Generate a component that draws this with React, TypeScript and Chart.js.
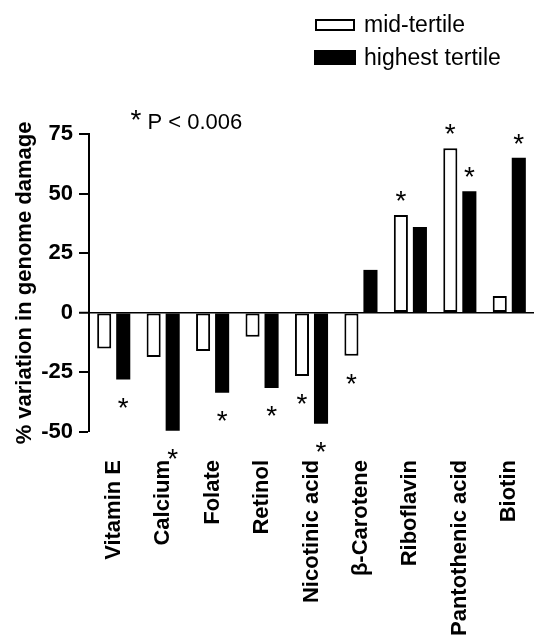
import React, { useEffect, useRef } from 'react';
import { Chart, registerables } from 'chart.js';

Chart.register(...registerables);

const categories = [
  'Vitamin E',
  'Calcium',
  'Folate',
  'Retinol',
  'Nicotinic acid',
  'β-Carotene',
  'Riboflavin',
  'Pantothenic acid',
  'Biotin',
];
const midTertile = [-15, -18.5, -16, -10, -26.5, -18, 41, 69, 7];
const highestTertile = [-28, -49.5, -33.5, -31.5, -46.5, 18, 36, 51, 65];
const midSignificant = [false, false, false, false, true, true, true, true, false];
const highestSignificant = [true, true, true, true, true, false, false, true, true];
const yTicks = [-50, -25, 0, 25, 50, 75];
const seriesNames = ['mid-tertile', 'highest tertile'];
const yTitle = '% variation in genome damage';
const noteStar = '*';
const noteText = 'P < 0.006';

const FONT = '"Liberation Sans", Arial, Helvetica, sans-serif';

export default function App() {
  const ref = useRef<HTMLCanvasElement | null>(null);

  useEffect(() => {
    if (!ref.current) return;

    const annotations = {
      id: 'annotations',
      afterDatasetsDraw(chart: any) {
        const ctx = chart.ctx;
        ctx.save();
        ctx.fillStyle = '#000';
        ctx.textAlign = 'center';
        ctx.textBaseline = 'alphabetic';
        ctx.font = `28px ${FONT}`;
        const flags = [midSignificant, highestSignificant];
        flags.forEach((sig, di) => {
          const meta = chart.getDatasetMeta(di);
          meta.data.forEach((bar: any, i: number) => {
            if (!sig[i]) return;
            const v = chart.data.datasets[di].data[i] as number;
            const cy = v < 0 ? bar.y + 21 : bar.y - 21;
            ctx.fillText('*', bar.x, cy + 16);
          });
        });
        ctx.restore();
      },
      afterDraw(chart: any) {
        const ctx = chart.ctx;
        ctx.save();
        // legend
        ctx.strokeStyle = '#000';
        ctx.lineWidth = 2;
        ctx.fillStyle = '#fff';
        ctx.fillRect(316, 20, 38, 10);
        ctx.strokeRect(316, 20, 38, 10);
        ctx.fillStyle = '#000';
        ctx.fillRect(314, 50, 42, 15);
        ctx.font = `23px ${FONT}`;
        ctx.textAlign = 'left';
        ctx.textBaseline = 'alphabetic';
        ctx.fillText(seriesNames[0], 364, 31.5);
        ctx.fillText(seriesNames[1], 364, 65);
        // note
        ctx.font = `28px ${FONT}`;
        ctx.fillText(noteStar, 130.5, 128.5);
        ctx.font = `22px ${FONT}`;
        ctx.fillText(noteText, 147.5, 128.5);
        ctx.restore();
      },
    };

    const chart = new Chart(ref.current, {
      type: 'bar',
      data: {
        labels: categories,
        datasets: [
          {
            label: seriesNames[0],
            data: midTertile,
            backgroundColor: '#ffffff',
            borderColor: '#000000',
            borderWidth: 2,
            borderSkipped: false,
          },
          {
            label: seriesNames[1],
            data: highestTertile,
            backgroundColor: '#000000',
            borderColor: '#000000',
            borderWidth: 0,
          },
        ],
      },
      options: {
        animation: false,
        responsive: true,
        maintainAspectRatio: false,
        layout: { padding: { top: 134, left: 0, right: 0, bottom: 0 } },
        plugins: { legend: { display: false }, tooltip: { enabled: false } },
        datasets: { bar: { categoryPercentage: 0.77, barPercentage: 0.74 } },
        scales: {
          x: {
            grid: { display: false, drawTicks: false },
            border: { display: false },
            ticks: {
              autoSkip: false,
              minRotation: 90,
              maxRotation: 90,
              padding: 28,
              color: '#000',
              font: { family: FONT, size: 22, weight: 'bold' },
            },
            afterFit(s: any) {
              s.height = 204;
              s.paddingLeft = 0;
              s.paddingRight = 0;
            },
          },
          y: {
            min: -50,
            max: 75,
            afterBuildTicks(s: any) {
              s.ticks = yTicks.map((v) => ({ value: v }));
            },
            ticks: {
              color: '#000',
              padding: 6,
              font: { family: FONT, size: 22, weight: 'bold' },
            },
            grid: {
              color: (c: any) => (c.tick && c.tick.value === 0 ? '#000' : 'rgba(0,0,0,0)'),
              lineWidth: (c: any) => (c.tick && c.tick.value === 0 ? 1.5 : 0),
              tickColor: '#000',
              tickLength: 10,
              tickWidth: 2,
            },
            border: { display: true, color: '#000', width: 2 },
            title: {
              display: true,
              text: yTitle,
              color: '#000',
              font: { family: FONT, size: 22, weight: 'bold' },
              padding: { top: 12, bottom: 0 },
            },
            afterFit(s: any) {
              s.width = 89;
            },
          },
        },
      },
      plugins: [annotations],
    });

    return () => chart.destroy();
  }, []);

  return (
    <div style={{ position: 'absolute', left: 0, top: 0, width: 534, height: 636, background: '#fff' }}>
      <canvas ref={ref} />
    </div>
  );
}
